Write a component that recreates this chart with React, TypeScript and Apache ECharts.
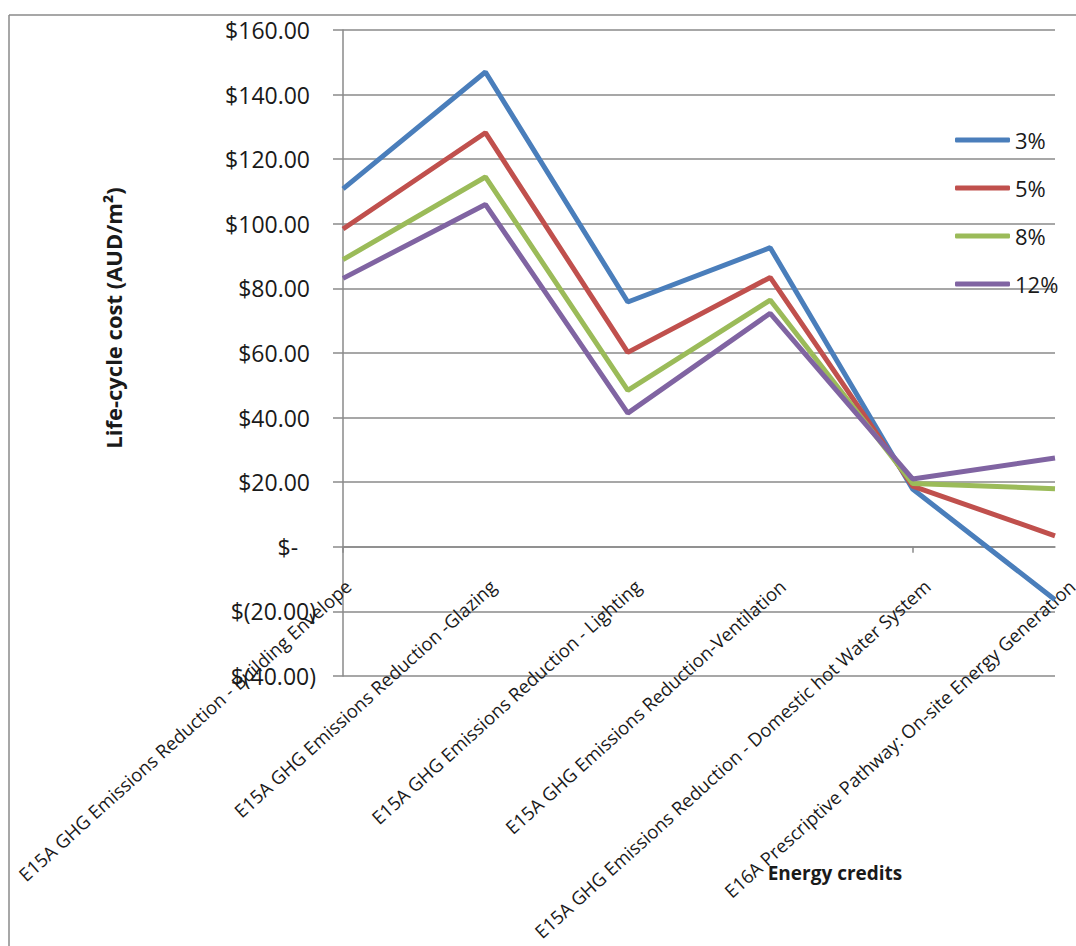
import React, { useEffect, useRef } from "react";
import * as echarts from "echarts";

// Energy credit categories (x axis)
const categories = [
  "E15A GHG Emissions Reduction - Building Envelope",
  "E15A GHG Emissions Reduction -Glazing",
  "E15A GHG Emissions Reduction - Lighting",
  "E15A GHG Emissions Reduction-Ventilation",
  "E15A GHG Emissions Reduction - Domestic hot Water System",
  "E16A Prescriptive Pathway: On-site Energy Generation",
];

// Discount rates (series names)
const seriesNames = ["3%", "5%", "8%", "12%"];

// Life-cycle cost per discount rate, AUD/m²
const rate3 = [110.8, 147.0, 75.8, 92.6, 17.9, -16.4];
const rate5 = [98.4, 128.2, 60.2, 83.4, 18.8, 3.4];
const rate8 = [88.9, 114.5, 48.4, 76.4, 19.6, 18.0];
const rate12 = [83.1, 106.0, 41.4, 72.3, 21.0, 27.5];

const seriesValues = [rate3, rate5, rate8, rate12];
const seriesColors = ["#4a7ebb", "#c0504d", "#9bbb59", "#8064a2"];

// Value axis range
const yMin = -40;
const yMax = 160;
const yStep = 20;

const FONT = "'Open Sans', 'Noto Sans', sans-serif";
const GRID_GRAY = "#8a8a8a";

// Accounting-style currency labels: $160.00, $-, $(20.00)
const formatCurrency = (v: number): string => {
  if (v === 0) return "$-\u00a0\u00a0\u00a0";
  if (v < 0) return "$(" + (-v).toFixed(2) + ")";
  return "$" + v.toFixed(2) + "\u00a0";
};

export default function App() {
  const ref = useRef<HTMLDivElement>(null);

  useEffect(() => {
    if (!ref.current) return;
    const chart = echarts.init(ref.current, null, { renderer: "svg" });

    chart.setOption({
      animation: false,
      backgroundColor: "#ffffff",
      textStyle: { fontFamily: FONT },
      grid: [
        { left: 343, right: 21, top: 30, bottom: 270, outerBoundsMode: "none" },
        // grid that only carries the rotated category labels
        { left: 348, right: 4, top: 30, bottom: 371, outerBoundsMode: "none" },
      ],
      legend: {
        orient: "vertical",
        left: 950,
        top: 124,
        itemWidth: 55,
        itemHeight: 5,
        itemGap: 26,
        icon: "roundRect",
        data: seriesNames,
        textStyle: { fontSize: 22, color: "#1a1a1a", fontFamily: FONT },
      },
      xAxis: [
        {
          type: "category",
          gridIndex: 0,
          data: categories,
          boundaryGap: false,
          axisLine: { show: true, onZero: true, lineStyle: { color: GRID_GRAY, width: 1.5 } },
          axisTick: { show: true, length: 6, lineStyle: { color: GRID_GRAY, width: 1.5 } },
          axisLabel: { show: false },
          splitLine: { show: false },
        },
        {
          type: "category",
          gridIndex: 1,
          position: "bottom",
          data: categories,
          boundaryGap: false,
          axisLine: { show: false, onZero: false },
          axisTick: { show: false },
          splitLine: { show: false },
          axisLabel: {
            show: true,
            interval: 0,
            rotate: 42,
            margin: 8,
            fontSize: 18.5,
            color: "#1a1a1a",
            fontFamily: FONT,
          },
        },
      ],
      yAxis: [
        {
          type: "value",
          gridIndex: 0,
          min: yMin,
          max: yMax,
          interval: yStep,
          axisLine: { show: true, lineStyle: { color: GRID_GRAY, width: 1.5 } },
          axisTick: { show: true, length: 10, lineStyle: { color: GRID_GRAY, width: 1.5 } },
          splitLine: { show: true, lineStyle: { color: GRID_GRAY, width: 1.5 } },
          axisLabel: {
            formatter: formatCurrency,
            margin: 27,
            fontSize: 23,
            color: "#1a1a1a",
            fontFamily: FONT,
          },
        },
        {
          type: "value",
          gridIndex: 1,
          min: 0,
          max: 1,
          show: false,
        },
      ],
      series: seriesNames.map((name, i) => ({
        name,
        type: "line",
        xAxisIndex: 0,
        yAxisIndex: 0,
        data: seriesValues[i],
        showSymbol: false,
        symbol: "none",
        color: seriesColors[i],
        lineStyle: { color: seriesColors[i], width: 5 },
      })),
      graphic: [
        {
          type: "line",
          shape: { x1: 9, y1: 15, x2: 1076, y2: 15 },
          style: { stroke: GRID_GRAY, lineWidth: 1.5 },
          silent: true,
        },
        {
          type: "line",
          shape: { x1: 9, y1: 15, x2: 9, y2: 946 },
          style: { stroke: GRID_GRAY, lineWidth: 1.5 },
          silent: true,
        },
        {
          type: "text",
          x: 113,
          y: 318,
          rotation: Math.PI / 2,
          style: {
            text: "Life-cycle cost (AUD/m²)",
            fontSize: 22,
            fontWeight: "bold",
            fontFamily: FONT,
            fill: "#1a1a1a",
            align: "center",
            verticalAlign: "middle",
            textAlign: "center",
            textVerticalAlign: "middle",
          },
        },
        {
          type: "text",
          x: 835,
          y: 873,
          style: {
            text: "Energy credits",
            fontSize: 19,
            fontWeight: "bold",
            fontFamily: FONT,
            fill: "#1a1a1a",
            align: "center",
            verticalAlign: "middle",
            textAlign: "center",
            textVerticalAlign: "middle",
          },
        },
      ],
    });

    return () => chart.dispose();
  }, []);

  return (
    <div
      ref={ref}
      style={{ position: "absolute", left: 0, top: 0, width: 1076, height: 946, background: "#fff" }}
    />
  );
}
